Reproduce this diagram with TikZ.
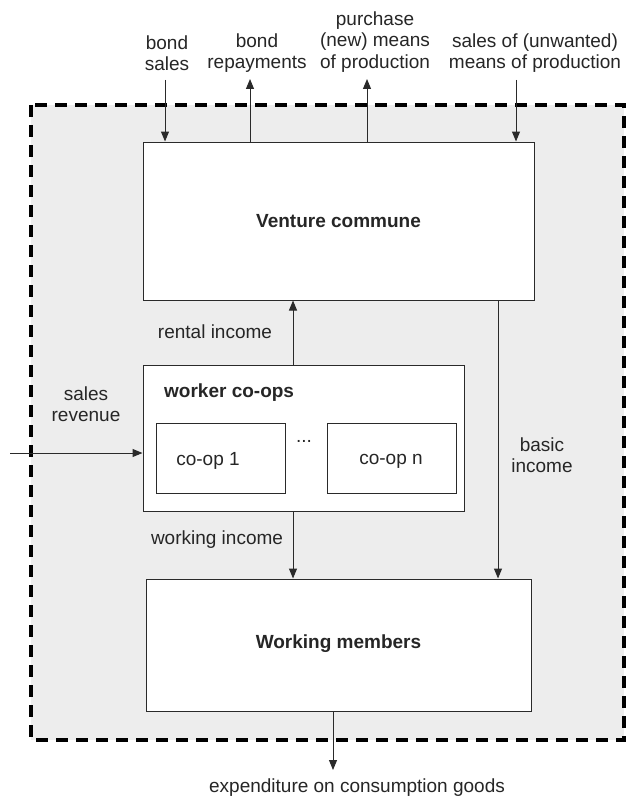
\documentclass[tikz,border=0pt]{standalone}
\usepackage{fontspec}
\setmainfont{Liberation Sans}
\usetikzlibrary{arrows.meta}
\definecolor{bgfill}{HTML}{EDEDED}
\definecolor{linec}{HTML}{2A2A2A}
\begin{document}
\begin{tikzpicture}[x=1pt,y=-1pt,
  txt/.style={inner sep=0pt,align=center,font=\fontsize{19}{21.5}\selectfont,text=black!85},
  boxx/.style={draw=linec,line width=1pt,fill=white,inner sep=0pt},
  arr/.style={draw=linec,line width=1pt,-{Triangle[length=10pt,width=8pt]}},
  outer/.style={draw=black,line width=4pt,dash pattern=on 12pt off 8pt,fill=bgfill}
]
\useasboundingbox (0,0) rectangle (627,797);
\fill[white] (0,0) rectangle (627,797);
\draw[outer] (31,105) rectangle (624,740);

\node[boxx,minimum width=391pt,minimum height=158pt] (VC) at (338.5,221) {};
\node[txt,font=\fontsize{19}{21.5}\selectfont\bfseries] (VCt) at (338.5,221) {Venture commune};
\node[boxx,minimum width=321pt,minimum height=146pt] (coops) at (303.5,438) {};
\node[boxx,minimum width=129pt,minimum height=70pt] (c1) at (220.5,458) {};
\node[boxx,minimum width=129pt,minimum height=70pt] (cn) at (391.5,458) {};
\node[boxx,minimum width=385pt,minimum height=132pt] (WM) at (338.5,645) {};
\node[txt,font=\fontsize{19}{21.5}\selectfont\bfseries] (WMt) at (338.5,644) {Working members};

\node[txt,font=\fontsize{19}{21.5}\selectfont\bfseries,anchor=west] (wct) at (164,393) {worker co-ops};
\node[txt] (c1t) at (208,461) {co-op 1};
\node[txt] (cnt) at (391,461) {co-op n};
\node[txt] (dots) at (304,441) {...};

\node[txt] (lbs) at (167,53) {bond\\sales};
\node[txt] (lbr) at (257,53) {bond\\repayments};
\node[txt] (lpu) at (375,42) {purchase\\(new) means\\of production};
\node[txt] (lsu) at (535,53) {sales of (unwanted)\\means of production};
\node[txt] (lri) at (215,332) {rental income};
\node[txt] (lsr) at (86,404) {sales\\revenue};
\node[txt] (lbi) at (542,455) {basic\\income};
\node[txt] (lwi) at (217,540) {working income};
\node[txt] (lex) at (357,788) {expenditure on consumption goods};

\coordinate (bsTop) at (165,80);
\coordinate (brTop) at (250,79);
\coordinate (puTop) at (367,79);
\coordinate (suTop) at (516,80);
\coordinate (srL) at (10,453);
\coordinate (xr) at (293,0);
\coordinate (xb) at (498,0);
\coordinate (exEnd) at (333,770);

\draw[arr] (bsTop) -- (bsTop |- VC.north);
\draw[arr] (brTop |- VC.north) -- (brTop);
\draw[arr] (puTop |- VC.north) -- (puTop);
\draw[arr] (suTop) -- (suTop |- VC.north);
\draw[arr] (xr |- coops.north) -- (xr |- VC.south);
\draw[arr] (srL) -- (srL -| coops.west);
\draw[arr] (xr |- coops.south) -- (xr |- WM.north);
\draw[arr] (xb |- VC.south) -- (xb |- WM.north);
\draw[arr] (exEnd |- WM.south) -- (exEnd);
\end{tikzpicture}
\end{document}
